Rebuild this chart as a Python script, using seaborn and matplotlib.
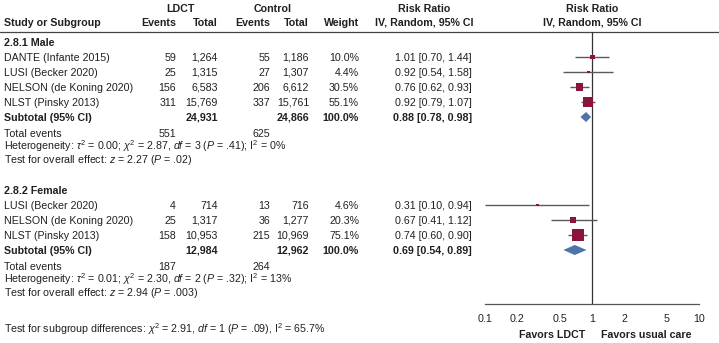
import numpy as np
import pandas as pd
import matplotlib.pyplot as plt
import seaborn as sns

# ---- data ----
male_study = ['DANTE (Infante 2015)', 'LUSI (Becker 2020)', 'NELSON (de Koning 2020)', 'NLST (Pinsky 2013)']
male_ldct_events = [59, 25, 156, 311]
male_ldct_total = [1264, 1315, 6583, 15769]
male_ctrl_events = [55, 27, 206, 337]
male_ctrl_total = [1186, 1307, 6612, 15761]
male_weight = [10.0, 4.4, 30.5, 55.1]
male_rr = [1.01, 0.92, 0.76, 0.92]
male_lo = [0.70, 0.54, 0.62, 0.79]
male_hi = [1.44, 1.58, 0.93, 1.07]
male_pooled = [0.88, 0.78, 0.98]
male_het = r'Heterogeneity: $\tau^2$ = 0.00; $\chi^2$ = 2.87, $\mathit{df}$ = 3 ($\mathit{P}$ = .41); $\mathrm{I}^2$ = 0%'
male_test = r'Test for overall effect: $\mathit{z}$ = 2.27 ($\mathit{P}$ = .02)'

female_study = ['LUSI (Becker 2020)', 'NELSON (de Koning 2020)', 'NLST (Pinsky 2013)']
female_ldct_events = [4, 25, 158]
female_ldct_total = [714, 1317, 10953]
female_ctrl_events = [13, 36, 215]
female_ctrl_total = [716, 1277, 10969]
female_weight = [4.6, 20.3, 75.1]
female_rr = [0.31, 0.67, 0.74]
female_lo = [0.10, 0.41, 0.60]
female_hi = [0.94, 1.12, 0.90]
female_pooled = [0.69, 0.54, 0.89]
female_het = r'Heterogeneity: $\tau^2$ = 0.01; $\chi^2$ = 2.30, $\mathit{df}$ = 2 ($\mathit{P}$ = .32); $\mathrm{I}^2$ = 13%'
female_test = r'Test for overall effect: $\mathit{z}$ = 2.94 ($\mathit{P}$ = .003)'

subgroup_test = r'Test for subgroup differences: $\chi^2$ = 2.91, $\mathit{df}$ = 1 ($\mathit{P}$ = .09), $\mathrm{I}^2$ = 65.7%'
tick_values = [0.1, 0.2, 0.5, 1, 2, 5, 10]
tick_labels = ['0.1', '0.2', '0.5', '1', '2', '5', '10']

# ---- styling ----
sns.set_style('white')
plt.rcParams['font.family'] = ['Liberation Sans', 'DejaVu Sans']
plt.rcParams['mathtext.fontset'] = 'custom'
plt.rcParams['mathtext.rm'] = 'Liberation Sans'
plt.rcParams['mathtext.it'] = 'Liberation Sans:italic'
plt.rcParams['mathtext.bf'] = 'Liberation Sans:bold'

FS = 7.7
TXT = '#231f20'
SQ = '#8a1538'
DIA = '#4e73a6'
CI = '#5a5a5a'

W, H = 719, 343
fig = plt.figure(figsize=(W / 100, H / 100), dpi=100)
tax = fig.add_axes([0, 0, 1, 1])
tax.set_xlim(0, W)
tax.set_ylim(H, 0)
tax.axis('off')

# forest panel in pixel-aligned y units
AX_L, AX_R, AX_T, AX_B = 485, 699, 32, 304
fax = fig.add_axes([AX_L / W, 1 - AX_B / H, (AX_R - AX_L) / W, (AX_B - AX_T) / H])
fax.patch.set_visible(False)


def put(x, y, s, ha='left', bold=False):
    tax.text(x, y + 3.7, s, ha=ha, va='baseline', fontsize=FS, color=TXT,
             fontweight='bold' if bold else 'normal')


# column anchors (right edges)
X_NAME, X_EV1, X_TOT1, X_EV2, X_TOT2, X_W, X_CI = 4, 176, 218, 270, 309, 359, 472

# headers
put((143 + 218) / 2, 8, 'LDCT', ha='center', bold=True)
put((236 + 309) / 2, 8, 'Control', ha='center', bold=True)
put(424, 8, 'Risk Ratio', ha='center', bold=True)
put(592, 8, 'Risk Ratio', ha='center', bold=True)
put(X_NAME, 22, 'Study or Subgroup', bold=True)
put(X_EV1, 22, 'Events', ha='right', bold=True)
put(X_TOT1, 22, 'Total', ha='right', bold=True)
put(X_EV2, 22, 'Events', ha='right', bold=True)
put(X_TOT2, 22, 'Total', ha='right', bold=True)
put(X_W, 22, 'Weight', ha='right', bold=True)
put(424, 22, 'IV, Random, 95% CI', ha='center', bold=True)
put(592, 22, 'IV, Random, 95% CI', ha='center', bold=True)
tax.axhline(32, color='#444444', lw=0.9)

frames = []


def subgroup(title, y0, study, e1, t1, e2, t2, w, rr, lo, hi, pooled, het, test):
    put(X_NAME, y0, title, bold=True)
    ys = [y0 + 15 * (i + 1) for i in range(len(study))]
    for y, s, a, b, c, d, ww, r, l, h in zip(ys, study, e1, t1, e2, t2, w, rr, lo, hi):
        put(X_NAME, y, s)
        put(X_EV1, y, f'{a:,}', ha='right')
        put(X_TOT1, y, f'{b:,}', ha='right')
        put(X_EV2, y, f'{c:,}', ha='right')
        put(X_TOT2, y, f'{d:,}', ha='right')
        put(X_W, y, f'{ww:.1f}%', ha='right')
        put(X_CI, y, f'{r:.2f} [{l:.2f}, {h:.2f}]', ha='right')
    frames.append(pd.DataFrame({'rr': rr, 'lo': lo, 'hi': hi, 'weight': w, 'y': ys}))
    ysub = ys[-1] + 15
    put(X_NAME, ysub, 'Subtotal (95% CI)', bold=True)
    put(X_TOT1, ysub, f'{sum(t1):,}', ha='right', bold=True)
    put(X_TOT2, ysub, f'{sum(t2):,}', ha='right', bold=True)
    put(X_W, ysub, f'{sum(w):.1f}%', ha='right', bold=True)
    est, plo, phi = pooled
    put(X_CI, ysub, f'{est:.2f} [{plo:.2f}, {phi:.2f}]', ha='right', bold=True)
    fax.fill([plo, est, phi, est], [ysub, ysub - 5, ysub, ysub + 5], color=DIA, lw=0, zorder=4)
    yev = ysub + 16
    put(X_NAME, yev, 'Total events')
    put(X_EV1, yev, f'{sum(e1):,}', ha='right')
    put(X_EV2, yev, f'{sum(e2):,}', ha='right')
    put(X_NAME, yev + 13.5, het)
    put(X_NAME, yev + 26.5, test)


subgroup('2.8.1 Male', 42, male_study, male_ldct_events, male_ldct_total, male_ctrl_events,
         male_ctrl_total, male_weight, male_rr, male_lo, male_hi, male_pooled, male_het, male_test)
subgroup('2.8.2 Female', 190, female_study, female_ldct_events, female_ldct_total, female_ctrl_events,
         female_ctrl_total, female_weight, female_rr, female_lo, female_hi, female_pooled, female_het, female_test)
put(X_NAME, 329, subgroup_test)

df = pd.concat(frames, ignore_index=True)
fax.hlines(df['y'], df['lo'], df['hi'], color=CI, lw=1.0, zorder=2)
sns.scatterplot(data=df, x='rr', y='y', size='weight', sizes=(0, 90), size_norm=(0, 100),
                marker='s', color=SQ, linewidth=0, legend=False, ax=fax, zorder=3)

fax.axvline(1, color='#333333', lw=0.9, zorder=1)
fax.set_xscale('log')
fax.set_xlim(0.1, 10)
fax.set_ylim(AX_B, AX_T)
fax.set_xticks(tick_values)
fax.set_xticklabels(tick_labels, fontsize=FS, color=TXT)
fax.minorticks_off()
fax.set_yticks([])
fax.set_xlabel('')
fax.set_ylabel('')
for side in ['top', 'right', 'left']:
    fax.spines[side].set_visible(False)
fax.spines['bottom'].set_color('#555555')
fax.spines['bottom'].set_linewidth(0.9)
fax.tick_params(axis='x', direction='in', length=3, width=0.8, color='#555555', pad=7)

put(585, 334, 'Favors LDCT', ha='right', bold=True)
put(601, 334, 'Favors usual care', bold=True)

fig.savefig('out.png', dpi=100)
